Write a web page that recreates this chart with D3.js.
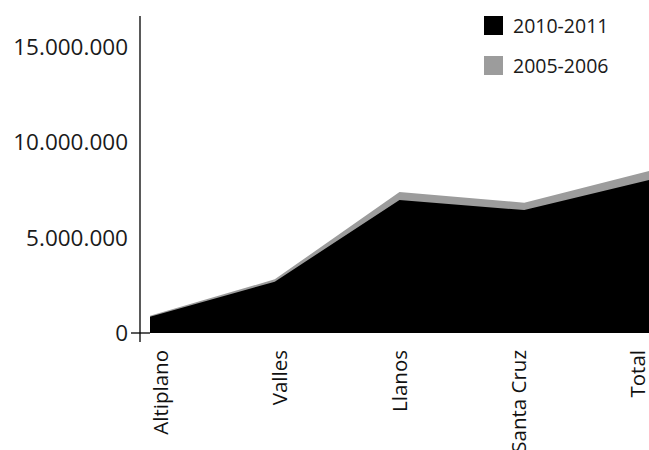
<!DOCTYPE html>
<head>
    <meta charset="utf-8">
    <style>
        body { margin: 0; background: #fff; }
        svg { position: absolute; top: 0; left: 0; }
        .ylab { font-family: 'Open Sans', sans-serif; font-size: 22.5px; fill: #1a1a1a; text-anchor: end; }
        .xlab { font-family: 'Open Sans', sans-serif; font-size: 20.5px; fill: #111; text-anchor: end; }
        .legend text { font-family: 'Open Sans', sans-serif; font-size: 19.5px; fill: #1a1a1a; }
    </style>
    <script src="https://d3js.org/d3.v7.min.js"></script>
</head>
<body>
<script>
    // data
    const regions = ["Altiplano", "Valles", "Llanos", "Santa Cruz", "Total"]
    const v2010 = [850000, 2690000, 6960000, 6440000, 8010000]
    const v2005 = [900000, 2810000, 7380000, 6820000, 8480000]
    const series = ["2010-2011", "2005-2006"]
    const colors = ["#000000", "#9c9c9c"]
    const yTicks = [0, 5000000, 10000000, 15000000]

    const W = 649, H = 450

    let svg = d3.select("body").append("svg")
        .attr("width", W).attr("height", H)

    ////////////// scales //////////////
    const x = d3.scalePoint().domain(regions).range([150, 649])
    const xLab = d3.scalePoint().domain(regions).range([168, 645])
    const y = d3.scaleLinear().domain([0, 16600000]).range([333, 16])

    const fmt = d => d3.format(",")(d).replace(/,/g, ".")

    ////////////// areas //////////////
    const area = vals => d3.area()
        .x((d, i) => x(regions[i]))
        .y0(y(0))
        .y1((d, i) => y(vals[i]))(vals)

    //older period behind, newer in front
    svg.append("path").attr("d", area(v2005)).attr("fill", colors[1])
    svg.append("path").attr("d", area(v2010)).attr("fill", colors[0])

    ////////////// axes //////////////
    svg.append("line")
        .attr("x1", 140).attr("x2", 140)
        .attr("y1", y.range()[1]).attr("y2", y(0) + 9)
        .attr("stroke", "#000").attr("stroke-width", 1.3)
    svg.append("line")
        .attr("x1", 131).attr("x2", x(regions[0]))
        .attr("y1", y(0)).attr("y2", y(0))
        .attr("stroke", "#000").attr("stroke-width", 1.3)

    svg.selectAll(".ylab").data(yTicks).enter().append("text")
        .attr("class", "ylab")
        .attr("x", 128)
        .attr("y", d => y(d))
        .attr("dy", "0.36em")
        .text(fmt)

    svg.selectAll(".xlab").data(regions).enter().append("text")
        .attr("class", "xlab")
        .attr("transform", d => "translate(" + xLab(d) + ",350) rotate(-90)")
        .text(d => d)

    ////////////// legend //////////////
    let legend = svg.append("g").attr("class", "legend")
    series.forEach((s, i) => {
        legend.append("rect")
            .attr("x", 484).attr("y", 16 + i * 40)
            .attr("width", 19).attr("height", 19)
            .attr("fill", colors[i])
        legend.append("text")
            .attr("x", 513).attr("y", 33 + i * 40)
            .text(s)
    })
</script>
</body>
